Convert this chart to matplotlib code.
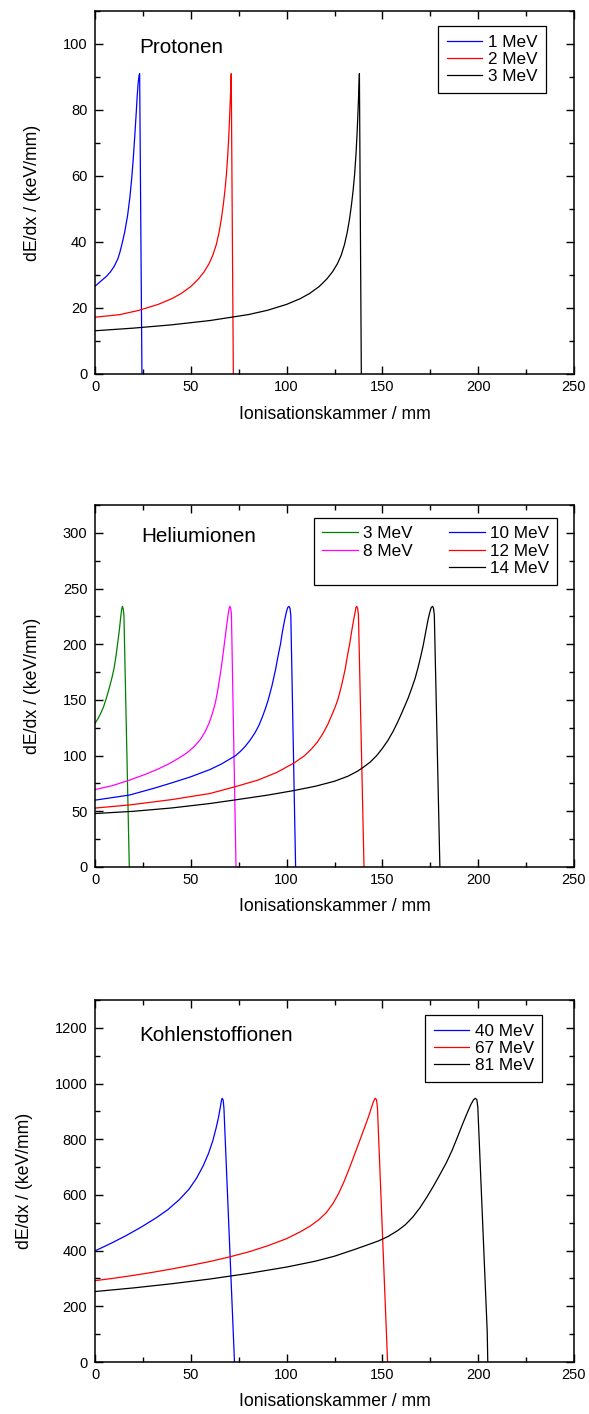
import matplotlib
matplotlib.use("Agg")
import matplotlib.pyplot as plt
from matplotlib.lines import Line2D
from matplotlib.ticker import MultipleLocator

plt.rcParams['font.family'] = ['Liberation Sans', 'DejaVu Sans']

# ---------------- Data ----------------
# Protonen
p1_x = [0, 2, 4, 6, 8, 10, 12, 13, 14, 15.5, 17, 18.2, 19.2, 20.0, 20.8, 21.5, 22.0, 22.5, 23.0, 23.3, 24.5]
p1_y = [26.6, 27.6, 28.6, 29.6, 30.9, 32.6, 35.0, 36.9, 39.2, 43.0, 48.0, 53.5, 59.5, 65.5, 72.5, 79.0, 84.0, 88.0, 90.5, 91.0, 0.0]
p2_x = [0, 13, 23, 33, 40, 45, 50, 54, 57, 59.5, 61.5, 63.3, 64.7, 65.9, 66.9, 67.8, 68.6, 69.3, 69.9, 70.4, 70.8, 71.1, 72.2]
p2_y = [17.2, 18.0, 19.3, 21.1, 22.8, 24.4, 26.5, 28.8, 31.0, 33.4, 36.0, 39.2, 42.8, 46.8, 51.0, 55.5, 60.5, 66.5, 73.0, 80.0, 86.0, 91.0, 0.0]
p3_x = [0, 20, 40, 60, 80, 90, 100, 107, 112, 117, 121, 124, 126.5, 128.5, 130.2, 131.6, 132.8, 133.8, 134.7, 135.5, 136.2, 136.8, 137.3, 137.7, 138, 139]
p3_y = [13.1, 13.9, 14.9, 16.2, 18.0, 19.3, 21.1, 22.8, 24.4, 26.5, 28.8, 31.0, 33.4, 36.0, 39.2, 42.8, 46.8, 51.0, 55.5, 60.5, 66.5, 73.0, 80.0, 86.0, 91.0, 0.0]
proton_labels = ['1 MeV', '2 MeV', '3 MeV']

# Heliumionen
he3_x = [0, 1.5, 3, 4.5, 6, 7.5, 9, 10, 11, 12, 12.8, 13.4, 13.9, 14.3, 14.7, 15.1, 17.9]
he3_y = [129, 133, 138, 144, 152, 161, 171, 179, 190, 203, 214, 224, 231, 234, 232, 226, 0]
he8_x = [0, 9, 18, 26, 33, 39, 44, 48, 52, 55, 57.5, 59.5, 61.2, 62.6, 63, 64.2, 65.3, 66.3, 67.2, 68, 68.8, 69.5, 70, 70.4, 70.8, 71.2, 73.6]
he8_y = [69.5, 73, 78, 83, 88, 93, 98, 102.5, 108.5, 114.5, 121.5, 129, 137.5, 146, 149, 160, 172, 184, 196, 207, 218, 227, 232, 234, 232.5, 227, 0]
he10_x = [0, 18, 31, 40, 50, 60, 66, 73.4, 76, 78.5, 81, 83.5, 85.5, 87.2, 88.9, 90.4, 92.4, 94.2, 95.6, 96.8, 97.9, 99, 99.9, 100.6, 101.3, 101.8, 102.2, 104.7]
he10_y = [60, 64.6, 70.8, 75.5, 81, 87.5, 92.5, 100, 104, 108.5, 114, 120.5, 127, 134, 142, 150, 163, 177, 190, 200, 212, 222, 229, 233, 234, 232, 226, 0]
he12_x = [0, 18, 40, 60, 73, 85, 95, 104, 109.4, 113, 116, 119, 121.5, 123.5, 125.2, 126.7, 128.7, 130.5, 131.8, 132.9, 134, 135, 135.8, 136.2, 136.6, 137.1, 137.5, 140.4]
he12_y = [52.9, 55.7, 60.5, 66, 72, 78, 85, 93.5, 100, 106, 112, 120, 128, 136, 143, 150, 163, 177, 190, 200, 212, 222, 229, 233, 234, 232, 226, 0]
he14_x = [0, 20, 40, 60, 73, 90, 104, 115, 125, 132, 137, 140, 143.5, 147, 150, 153, 155.5, 157.8, 159.9, 161.8, 163.5, 165.2, 167, 168.6, 170.0, 171.3, 172.5, 173.7, 174.7, 175.5, 176.2, 176.7, 177.1, 180]
he14_y = [48, 50, 53, 57, 60.2, 64.5, 68.7, 72.5, 77, 81.5, 86, 89.5, 94, 100, 106.5, 114, 121.5, 129.5, 137.5, 145, 152, 160, 169, 179, 189, 199, 210, 221, 228.5, 233, 234, 232, 226, 0]
helium_labels = ['3 MeV', '8 MeV', '10 MeV', '12 MeV', '14 MeV']

# Kohlenstoffionen
c40_x = [0, 8, 16, 24, 32, 38, 44, 49, 53, 56.5, 59.3, 61.5, 63.2, 64.5, 65.4, 66.0, 66.4, 66.9, 67.3, 72.8]
c40_y = [399, 425, 453, 484, 518, 547, 583, 620, 660, 705, 750, 795, 840, 880, 915, 940, 947, 940, 910, 0]
c67_x = [0, 10, 20, 30, 40, 50, 60, 70, 80, 90, 100, 107, 112.5, 117, 120.8, 124, 127, 130, 133, 136, 138.7, 141, 142.8, 144.2, 145.3, 146.2, 146.9, 147.4, 152.7]
c67_y = [292, 301, 311, 322, 334, 347, 361, 377, 395, 417, 443, 467, 489, 512, 537, 567, 603, 648, 700, 755, 805, 848, 882, 912, 935, 947, 942, 915, 0]
c81_x = [0, 20, 40, 60, 80, 100, 115, 125, 135, 142, 148, 153, 158, 162, 165.8, 169.5, 173, 176.5, 180, 183.4, 186.5, 189.3, 192, 194.3, 196.2, 197.6, 198.5, 199.3, 199.8, 204.7, 205]
c81_y = [253, 266, 281, 298, 318, 341, 362, 380, 403, 420, 435, 451, 472, 493, 520, 553, 590, 630, 673, 716, 762, 810, 857, 895, 925, 942, 947, 942, 915, 110, 0]
carbon_labels = ['40 MeV', '67 MeV', '81 MeV']

# ---------------- Figure ----------------
W, H = 589, 1414
fig = plt.figure(figsize=(W / 100, H / 100), dpi=100)

def axes_rect(left, top, right, bottom):
    return [left / W, 1 - bottom / H, (right - left) / W, (bottom - top) / H]

ax1 = fig.add_axes(axes_rect(95, 11, 574, 374))
ax2 = fig.add_axes(axes_rect(95, 505, 574, 867))
ax3 = fig.add_axes(axes_rect(95, 1000, 574, 1362))

LW = 0.9

def style(ax, ymax, ymajor, yminor, ylabel_x):
    ax.set_xlim(0, 250)
    ax.set_ylim(0, ymax)
    ax.xaxis.set_major_locator(MultipleLocator(50))
    ax.xaxis.set_minor_locator(MultipleLocator(25))
    ax.yaxis.set_major_locator(MultipleLocator(ymajor))
    ax.yaxis.set_minor_locator(MultipleLocator(yminor))
    ax.tick_params(which='both', direction='in', top=True, right=True, width=1.0)
    ax.tick_params(which='major', length=6)
    ax.tick_params(which='minor', length=3.5)
    ax.tick_params(axis='x', which='major', pad=4.5, labelsize=10.5)
    ax.tick_params(axis='y', which='major', pad=5.5, labelsize=10.5)
    for s in ax.spines.values():
        s.set_linewidth(1.1)
    ax.set_xlabel('Ionisationskammer / mm', fontsize=12.7)
    ax.set_ylabel('dE/dx / (keV/mm)', fontsize=12.7)
    ax.xaxis.set_label_coords(0.5, -0.087)
    ax.yaxis.set_label_coords(ylabel_x, 0.5)

def legend(ax, handles, labels, anchor, ncol=1, colsp=1.7):
    lg = ax.legend(handles, labels, loc='upper left', bbox_to_anchor=anchor,
                   ncol=ncol, fontsize=12.3, frameon=True, fancybox=False,
                   edgecolor='black', framealpha=1, borderaxespad=0,
                   handlelength=2.1, handletextpad=0.3, labelspacing=0.14,
                   borderpad=0.5, columnspacing=colsp)
    lg.get_frame().set_linewidth(0.9)
    return lg

# Panel 1
l1, = ax1.plot(p1_x, p1_y, color='#0000ff', lw=LW)
l2, = ax1.plot(p2_x, p2_y, color='#ff0000', lw=LW)
l3, = ax1.plot(p3_x, p3_y, color='black', lw=LW)
style(ax1, 110, 20, 10, -0.113)
ax1.text(23.1, 97.2, 'Protonen', fontsize=14.9, va='baseline', ha='left')
legend(ax1, [l1, l2, l3], proton_labels, (0.716, 0.9587))

# Panel 2
h3, = ax2.plot(he3_x, he3_y, color='#008000', lw=LW)
h8, = ax2.plot(he8_x, he8_y, color='#ff00ff', lw=LW)
h10, = ax2.plot(he10_x, he10_y, color='#0000ff', lw=LW)
h12, = ax2.plot(he12_x, he12_y, color='#ff0000', lw=LW)
h14, = ax2.plot(he14_x, he14_y, color='black', lw=LW)
style(ax2, 325, 50, 25, -0.113)
ax2.text(23.9, 291.5, 'Heliumionen', fontsize=14.9, va='baseline', ha='left')
blank = Line2D([], [], color='none')
legend(ax2, [h3, h8, blank, h10, h12, h14],
       [helium_labels[0], helium_labels[1], '', helium_labels[2], helium_labels[3], helium_labels[4]],
       (0.457, 0.965), ncol=2, colsp=2.1)

# Panel 3
c1, = ax3.plot(c40_x, c40_y, color='#0000ff', lw=LW)
c2, = ax3.plot(c67_x, c67_y, color='#ff0000', lw=LW)
c3, = ax3.plot(c81_x, c81_y, color='black', lw=LW)
style(ax3, 1300, 200, 100, -0.13)
ax3.text(22.9, 1152.8, 'Kohlenstoffionen', fontsize=14.9, va='baseline', ha='left')
legend(ax3, [c1, c2, c3], carbon_labels, (0.689, 0.9586))

fig.savefig('out.png', dpi=100)
